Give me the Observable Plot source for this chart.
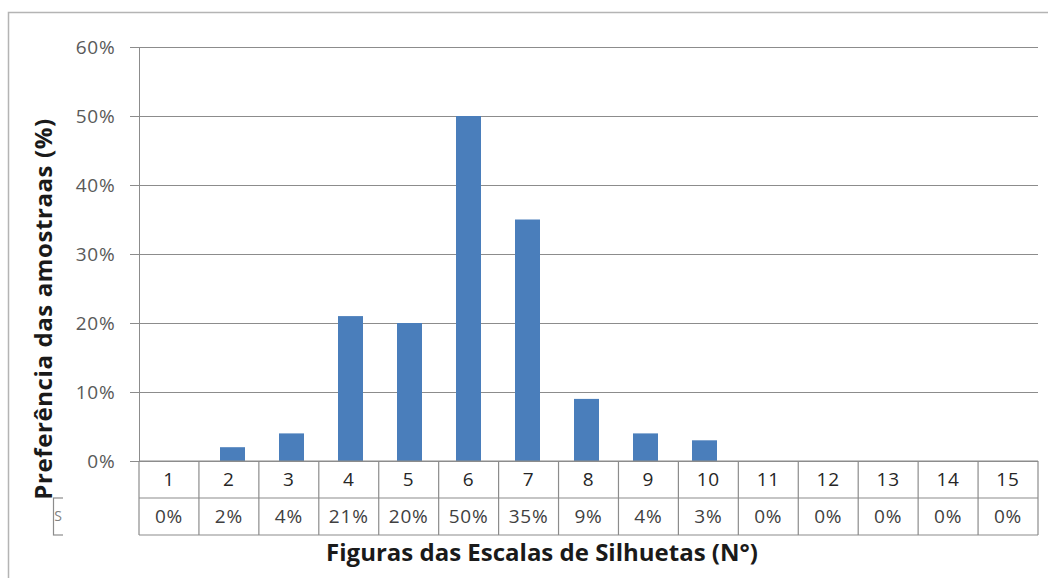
<!DOCTYPE html>
<html>
<head>
<meta charset="utf-8">
<script src="https://cdn.jsdelivr.net/npm/d3@7"></script>
<script src="https://cdn.jsdelivr.net/npm/@observablehq/plot@0.6"></script>
<style>
  html, body { margin: 0; padding: 0; background: #fff; }
  svg { display: block; }
</style>
</head>
<body>
<div id="chart"></div>
<script>
const categories = ["1","2","3","4","5","6","7","8","9","10","11","12","13","14","15"];
const values = [0, 0.02, 0.04, 0.21, 0.20, 0.50, 0.35, 0.09, 0.04, 0.03, 0, 0, 0, 0, 0];
const yTicks = [0, 0.1, 0.2, 0.3, 0.4, 0.5, 0.6];
const xTitle = "Figuras das Escalas de Silhuetas (N°)";
const yTitle = "Preferência das amostraas (%)";
const legendKey = "S";

const data = categories.map((c, i) => ({cat: c, value: values[i]}));
const pct = d3.format(".0%");
const FONT = "'Open Sans', sans-serif";

const chart = Plot.plot({
  width: 1048,
  height: 578,
  marginTop: 47,
  marginBottom: 117,
  marginLeft: 139,
  marginRight: 10,
  style: {fontFamily: FONT, background: "#fff"},
  x: {domain: categories, paddingInner: 0.58, paddingOuter: 0.29, axis: null},
  y: {domain: [0, 0.6]},
  marks: [
    Plot.gridY(yTicks, {stroke: "#8c8c8c", strokeOpacity: 1, strokeWidth: 1.2}),
    Plot.axisY(yTicks, {tickSize: 9, tickPadding: 15, fontSize: 19, fill: "#595959", stroke: "#8c8c8c", tickFormat: pct, label: null}),
    Plot.frame({anchor: "left", stroke: "#8c8c8c"}),
    Plot.barY(data, {x: "cat", y: "value", dx: -2, fill: "#4a7ebb"})
  ]
});

document.getElementById("chart").appendChild(chart);

const svg = d3.select(chart);
svg.selectAll("[aria-label='y-axis tick label'] text").attr("letter-spacing", "0.8px");

const xs = chart.scale("x");
const ys = chart.scale("y");
const n = categories.length;
const x0 = xs.range[0];
const x1 = xs.range[1];
const step = (x1 - x0) / n;
const yTop = ys.apply(0);
const rowH = 37;
const gridColor = "#8c8c8c";

// outer chart-area border (top and left)
svg.append("path")
  .attr("d", `M8.5,578V12.5H1048`)
  .attr("fill", "none").attr("stroke", "#b4b4b4").attr("stroke-width", 1.5);

// data table grid
const tbl = svg.append("g").attr("stroke", gridColor).attr("stroke-width", 1.2);
for (let r = 0; r <= 2; r++) {
  tbl.append("line").attr("x1", x0).attr("x2", x0 + n * step)
    .attr("y1", yTop + r * rowH).attr("y2", yTop + r * rowH);
}
for (let i = 0; i <= n; i++) {
  tbl.append("line").attr("x1", x0 + i * step).attr("x2", x0 + i * step)
    .attr("y1", yTop).attr("y2", yTop + 2 * rowH);
}

// table text
const tt = svg.append("g").attr("font-family", FONT).attr("font-size", 19)
  .attr("letter-spacing", "0.8px").attr("text-anchor", "middle");
categories.forEach((c, i) => {
  const cx = x0 + (i + 0.5) * step;
  tt.append("text").attr("x", cx).attr("y", yTop + rowH / 2).attr("dy", "0.35em").attr("fill", "#262626").text(c);
  tt.append("text").attr("x", cx).attr("y", yTop + rowH * 1.5).attr("dy", "0.35em").attr("fill", "#404040").text(pct(values[i]));
});

// clipped legend key cell
const defs = svg.append("defs");
defs.append("clipPath").attr("id", "lk").append("rect")
  .attr("x", 50).attr("y", yTop + rowH - 2).attr("width", 13).attr("height", rowH + 4);
const lk = svg.append("g").attr("clip-path", "url(#lk)");
lk.append("rect").attr("x", 53.5).attr("y", yTop + rowH).attr("width", 40).attr("height", rowH)
  .attr("fill", "#fff").attr("stroke", gridColor).attr("stroke-width", 1.2);
lk.append("text").attr("x", 58).attr("y", yTop + rowH * 1.5).attr("dy", "0.35em")
  .attr("font-family", FONT).attr("font-size", 14).attr("fill", "#808080").text(legendKey);

// axis titles
svg.append("text").attr("x", 542).attr("y", 553).attr("dy", "0.35em")
  .attr("text-anchor", "middle").attr("font-family", FONT).attr("font-weight", "bold")
  .attr("font-size", 24).attr("fill", "#1a1a1a").text(xTitle);
svg.append("text").attr("transform", "translate(44,309) rotate(-90)").attr("dy", "0.35em")
  .attr("text-anchor", "middle").attr("font-family", FONT).attr("font-weight", "bold")
  .attr("font-size", 24).attr("letter-spacing", "0.6px").attr("fill", "#1a1a1a").text(yTitle);
</script>
</body>
</html>
